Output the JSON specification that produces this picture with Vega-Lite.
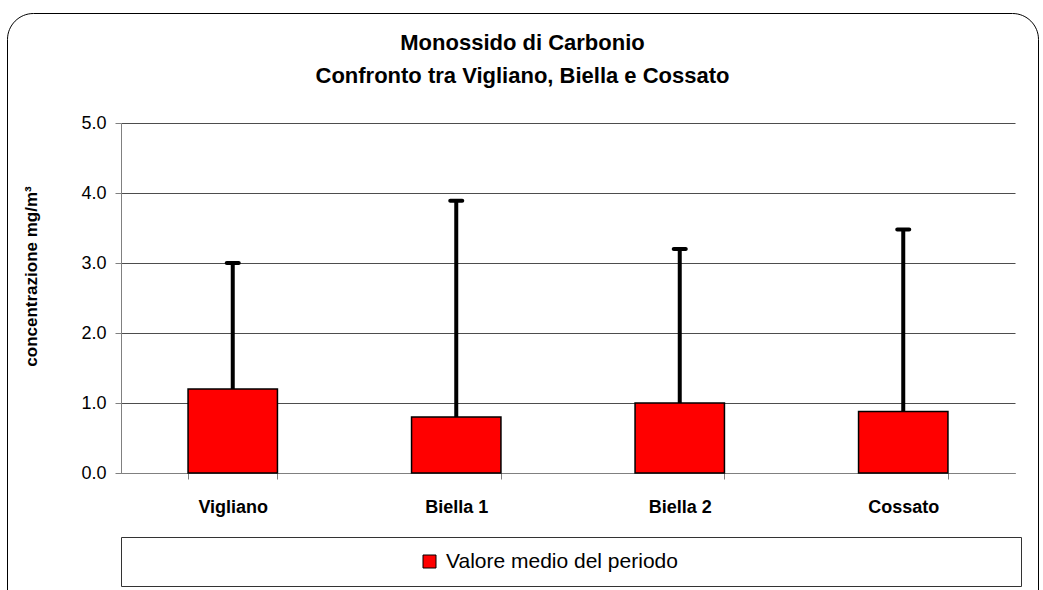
{
  "$schema": "https://vega.github.io/schema/vega-lite/v6.json",
  "width": 894,
  "height": 350,
  "autosize": "none",
  "padding": {"left": 121, "top": 123, "right": 28, "bottom": 117},
  "background": "white",
  "title": {
    "text": ["Monossido di Carbonio", "Confronto tra Vigliano, Biella e Cossato"],
    "font": "Liberation Sans",
    "fontSize": 22,
    "fontWeight": "bold",
    "color": "black",
    "anchor": "middle",
    "frame": "bounds",
    "lineHeight": 33,
    "offset": -75
  },
  "data": {
    "values": [
      {"sito": "Vigliano", "medio": 1.2, "massimo": 3.0, "serie": "Valore medio del periodo", "cornice": "a"},
      {"sito": "Biella 1", "medio": 0.8, "massimo": 3.89, "serie": "Valore medio del periodo", "cornice": "a"},
      {"sito": "Biella 2", "medio": 1.0, "massimo": 3.2, "serie": "Valore medio del periodo", "cornice": "a"},
      {"sito": "Cossato", "medio": 0.88, "massimo": 3.48, "serie": "Valore medio del periodo", "cornice": "a"}
    ]
  },
  "encoding": {
    "x": {
      "field": "sito",
      "type": "nominal",
      "sort": null,
      "scale": {"paddingInner": 0.6, "paddingOuter": 0.3},
      "axis": {
        "title": null,
        "labelAngle": 0,
        "labelFont": "Liberation Sans",
        "labelFontSize": 18,
        "labelFontWeight": "bold",
        "labelColor": "black",
        "labelPadding": 19,
        "tickBand": "extent",
        "tickSize": 6,
        "tickColor": "#808080",
        "domainColor": "#808080",
        "grid": false
      }
    }
  },
  "layer": [
    {
      "mark": {"type": "bar", "stroke": "black", "strokeWidth": 1.5},
      "encoding": {
        "y": {
          "field": "medio",
          "type": "quantitative",
          "scale": {"domain": [0, 5], "nice": false},
          "axis": {
            "title": "concentrazione mg/m³",
            "titleFont": "Liberation Sans",
            "titleFontSize": 17,
            "titleFontWeight": "bold",
            "titleColor": "black",
            "titlePadding": 40,
            "titleY": 153,
            "values": [0, 1, 2, 3, 4, 5],
            "format": ".1f",
            "labelFont": "Liberation Sans",
            "labelFontSize": 18,
            "labelColor": "black",
            "labelPadding": 9,
            "tickSize": 6,
            "tickColor": "#808080",
            "domainColor": "#808080",
            "grid": true,
            "gridColor": "#4d4d4d",
            "gridWidth": 1
          }
        },
        "color": {
          "field": "serie",
          "type": "nominal",
          "scale": {"range": ["#ff0000"]},
          "legend": {
            "orient": "bottom",
            "direction": "horizontal",
            "title": " ",
            "titleOrient": "right",
            "titlePadding": 329,
            "titleFontSize": 17,
            "offset": 21,
            "padding": 14,
            "strokeColor": "#333333",
            "fillColor": "white",
            "symbolType": "square",
            "symbolSize": 169,
            "symbolOffset": 284,
            "symbolStrokeColor": "black",
            "symbolStrokeWidth": 1,
            "symbolOpacity": 1,
            "labelFont": "Liberation Sans",
            "labelFontSize": 21,
            "labelColor": "black",
            "labelOffset": 6,
            "labelLimit": 2000
          }
        }
      }
    },
    {
      "mark": {"type": "rule", "color": "black", "strokeWidth": 4},
      "encoding": {
        "y": {"field": "medio", "type": "quantitative"},
        "y2": {"field": "massimo"},
        "opacity": {
          "field": "cornice",
          "type": "ordinal",
          "scale": {"range": [1, 1]},
          "legend": {
            "orient": "none",
            "legendX": -114,
            "legendY": -110,
            "padding": 300,
            "cornerRadius": 26,
            "strokeColor": "black",
            "fillColor": null,
            "title": " ",
            "titleOrient": "left",
            "titleFontSize": 10,
            "titlePadding": 421,
            "symbolSize": 1,
            "symbolOpacity": 0,
            "symbolStrokeWidth": 0,
            "labelExpr": "''",
            "labelOffset": 0
          }
        }
      }
    },
    {
      "mark": {"type": "tick", "color": "black", "size": 16, "thickness": 4, "cornerRadius": 2, "opacity": 1},
      "encoding": {
        "y": {"field": "massimo", "type": "quantitative"}
      }
    }
  ],
  "config": {
    "view": {"stroke": null},
    "font": "Liberation Sans"
  }
}
